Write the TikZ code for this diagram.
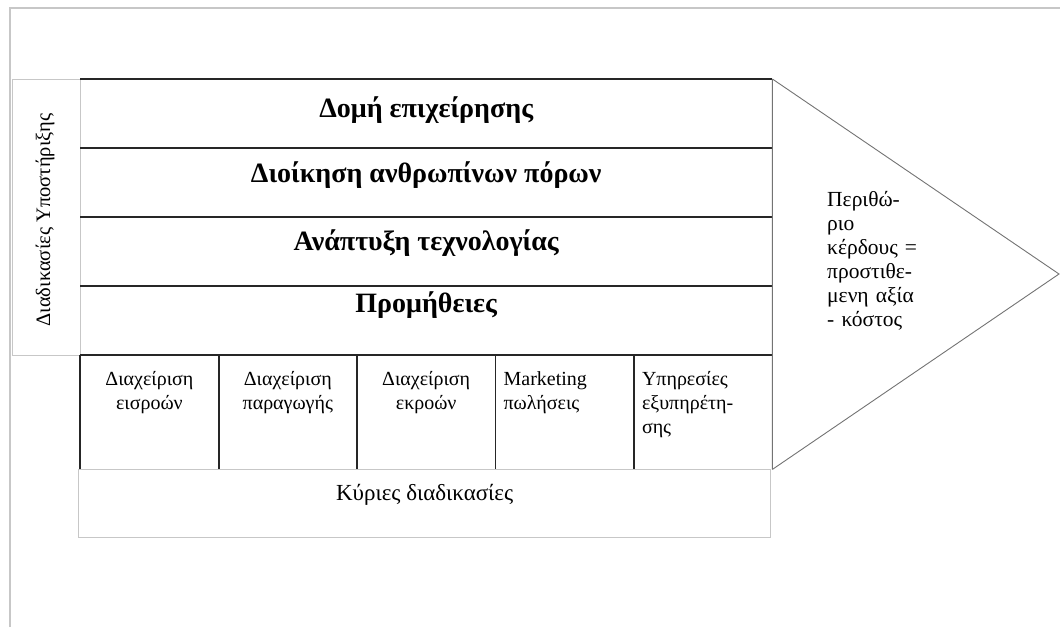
\documentclass[tikz,border=0pt]{standalone}
\usepackage{fontspec}
\setmainfont{Liberation Serif}
\begin{document}
\begin{tikzpicture}[x=1pt,y=-1pt,
  frame/.style={draw=black!22, line width=1.3pt},
  rule/.style={draw=black!85, line width=1.7pt},
  edge/.style={draw=black!55, line width=1.1pt},
  area/.style={draw=none, anchor=north west, inner sep=0pt},
  headtxt/.style={anchor=base, inner sep=0pt, font=\fontsize{28}{32}\selectfont\bfseries},
  celltxt/.style={anchor=base, inner sep=0pt, text width=122pt, font=\fontsize{20}{24}\selectfont},
  margtxt/.style={anchor=base west, inner sep=0pt, text width=110pt, align=left, font=\fontsize{21.5}{24}\selectfont}]
\useasboundingbox (0,0) rectangle (1060,627);

% outer page frame
\draw[frame] (10,627) -- (10,8) -- (1060,8);

% support activities label
\node[area, frame, minimum width=68pt, minimum height=276pt] (support) at (12,79) {};
\node[rotate=90, anchor=base, inner sep=0pt, font=\fontsize{20.5}{24}\selectfont] (supporttxt) at (50,220) {Διαδικασίες Υποστήριξης};

% support activity rows
\foreach \i/\t/\b in {1/Δομή επιχείρησης/38, 2/Διοίκηση ανθρωπίνων πόρων/34, 3/Ανάπτυξη τεχνολογίας/33, 4/Προμήθειες/26}{
  \node[area, minimum width=692pt, minimum height=69pt] (row\i) at (80,{79+69*(\i-1)}) {};
  \node[headtxt] (rowtxt\i) at ([yshift=-\b pt]row\i.north) {\t};
  \draw[rule] (row\i.north west) -- (row\i.north east);
}

% primary activity cells
\foreach \i/\t/\al in {1/{Διαχείριση\\εισροών}/center, 2/{Διαχείριση\\παραγωγής}/center, 3/{Διαχείριση\\εκροών}/center, 4/{Marketing\\πωλήσεις}/left, 5/{Υπηρεσίες\\εξυπηρέτη-\\σης}/left}{
  \node[area, minimum width=138.4pt, minimum height=114pt] (cell\i) at ({80+138.4*(\i-1)},355) {};
  \node[celltxt, align=\al] (celltxt\i) at ([yshift=-30pt]cell\i.north) {\t};
}
\draw[rule] (cell1.north west) -- (cell5.north east);
\foreach \i in {1,...,4}{
  \draw[rule] (cell\i.north east) -- (cell\i.south east);
}
\draw[rule] (cell1.north west) -- (cell1.south west);

% right edge of the block
\draw[edge] (row1.north east) -- (cell5.south east);

% margin arrow
\coordinate (tip) at (1059,274);
\draw[edge, line width=0.9pt] (row1.north east) -- (tip) -- (cell5.south east);
\node[margtxt] (margin) at (827,206) {Περιθώ-\\ριο\\κέρδους =\\προστιθε-\\μενη αξία\\- κόστος};

% primary activities caption
\node[area, frame, minimum width=692pt, minimum height=68pt] (primary) at (78,469) {};
\node[anchor=base, inner sep=0pt, font=\fontsize{23}{26}\selectfont] (primarytxt) at ([yshift=-31pt]primary.north) {Κύριες διαδικασίες};
\end{tikzpicture}
\end{document}
